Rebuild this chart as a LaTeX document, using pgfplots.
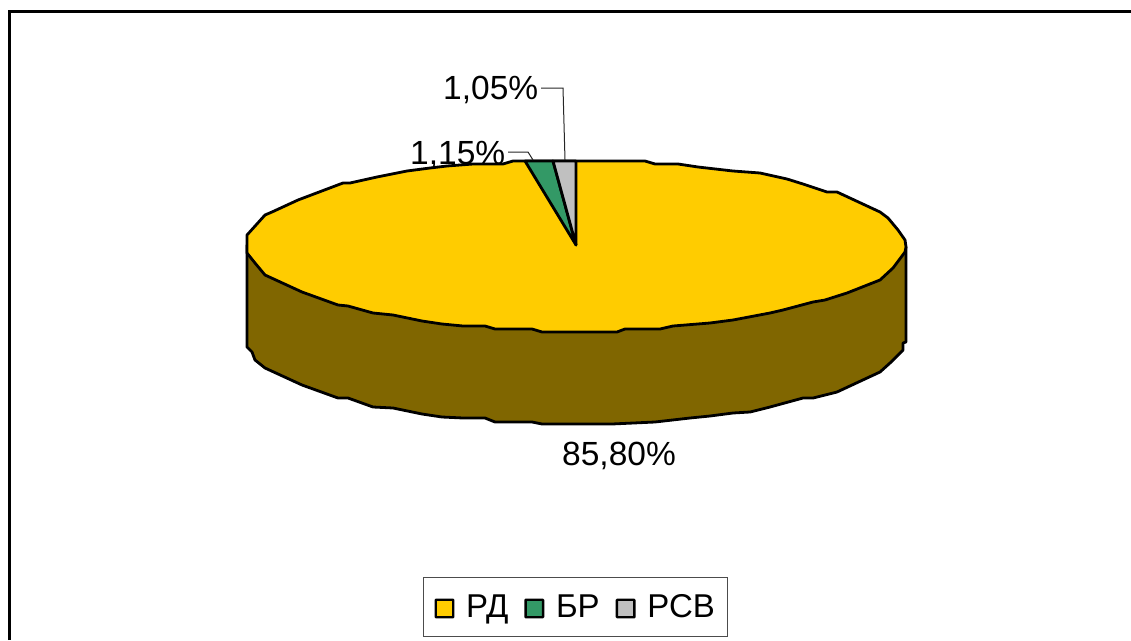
\documentclass[border=0pt]{standalone}
\usepackage{pgfplots}
\pgfplotsset{compat=1.18}
\usepackage{fontspec}
\setmainfont{Liberation Sans}
\definecolor{rd}{HTML}{FFCC00}
\definecolor{rdside}{HTML}{806600}
\definecolor{br}{HTML}{339966}
\definecolor{rsv}{HTML}{C0C0C0}
\newcommand{\lbl}{\fontsize{33.5}{36}\selectfont}
\pgfplotsset{
  swatch/.style={legend image code/.code={
    \draw[draw=black,line width=2.4pt,fill=#1,rounded corners=0.6pt] (0pt,-10.5pt) rectangle (17.5pt,7pt);
    \path (28pt,0pt);
  }},
  pie/.style={forget plot, draw=black, line width=2.8pt, line join=round}
}
\begin{document}
\begin{tikzpicture}
\begin{axis}[
  scale only axis, width=1131pt, height=640pt,
  xmin=0, xmax=1131, ymin=0, ymax=640, y dir=reverse,
  axis lines=none, clip=true,
  legend columns=3,
  legend cell align=left,
  legend style={at={(axis cs:423,577)}, anchor=north west, draw=black!70, line width=1pt,
    font=\fontsize{33}{35}\selectfont, inner xsep=11pt, inner ysep=15pt,
    /tikz/every even column/.append style={column sep=14pt}},
]
\path (axis cs:0,0) rectangle (axis cs:1131,640);
% frame
\addplot[forget plot, black, line width=3pt] coordinates {(9.5,640) (9.5,11) (1131,11)};
% side wall
\addplot[pie, fill=rdside] coordinates {
 (247,245) (247,347) (252,352) (255,360) (265,368) (302,385) (338,398) (348,398) (373,407) (393,408)
 (422,414) (442,417) (463,418) (485,418) (495,422) (532,422) (542,424) (576,424) (612,424) (655,422)
 (690,418) (710,416) (733,413) (750,412) (770,407) (803,398) (813,398) (837,392) (880,372) (890,363)
 (903,350) (903,343) (906,342) (906,247)} --cycle;
% top face
\addplot[pie, fill=rd] coordinates {
 (247,235) (265,215) (272,212) (298,200) (343,183) (350,183) (377,177) (407,171) (430,168) (447,166)
 (473,164) (503,164) (513,161) (523,161) (577,161) (645,161) (655,164) (678,164) (698,167) (733,171)
 (760,173) (787,179) (803,184) (827,192) (837,192) (880,212) (888,218) (898,230) (905,240) (906,247)
 (905,252) (893,268) (880,280) (847,293) (825,300) (813,302) (783,310) (770,313) (733,320) (710,323)
 (673,326) (660,329) (625,329) (617,332) (576,332) (542,332) (532,329) (495,329) (485,326) (463,326)
 (442,324) (422,321) (393,315) (373,313) (348,306) (338,305) (302,292) (265,275) (255,263) (247,253)} --cycle;
% slices
\addplot[pie, fill=br] coordinates {(576,245) (525,161) (553,161)} --cycle;
\addplot[pie, fill=rsv] coordinates {(576,245) (553,161) (576,161)} --cycle;
% leader lines
\addplot[forget plot, black!85, line width=1pt] coordinates {(541,88) (563,88) (565,160)};
\addplot[forget plot, black!85, line width=1pt] coordinates {(508,152) (528,152) (533,160)};
% labels
\node[anchor=base west, inner sep=0pt, font=\lbl] at (axis cs:443,99) {1,05\%};
\node[anchor=base west, inner sep=0pt, font=\lbl] at (axis cs:410,164) {1,15\%};
\node[anchor=base west, inner sep=0pt, font=\lbl] at (axis cs:562,465) {85,80\%};
% legend
\addlegendimage{swatch=rd}\addlegendentry{РД}
\addlegendimage{swatch=br}\addlegendentry{БР}
\addlegendimage{swatch=rsv}\addlegendentry{РСВ}
\end{axis}
\end{tikzpicture}
\end{document}
